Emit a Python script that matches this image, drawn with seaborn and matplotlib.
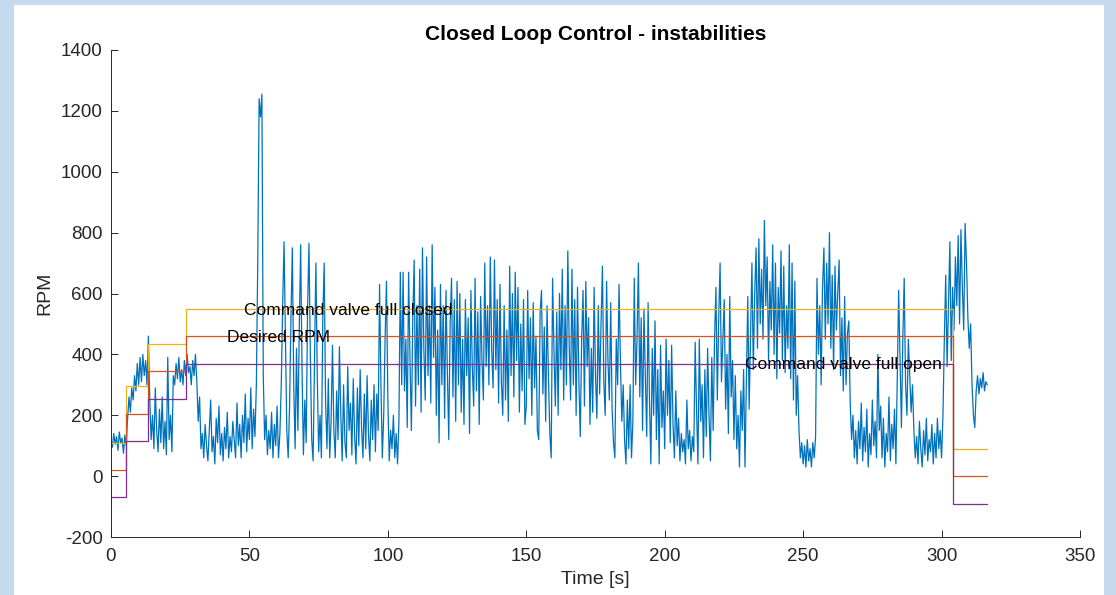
import numpy as np
import pandas as pd
import matplotlib
matplotlib.use("Agg")
import matplotlib.pyplot as plt
import seaborn as sns
from matplotlib.patches import Rectangle

# Logged shaft speed, one reading every 0.5 s starting at t = 0
sample_dt = 0.5
rpm = [
    # 0 - 5.5 s
    120, 95, 140, 105, 130, 85, 145, 110, 125, 75, 135, 100,
    # 6 - 13 s
    190, 260, 210, 290, 250, 330, 280, 370, 300, 390, 310, 400, 330, 380, 300,
    # 13.5 - 22 s
    460, 250, 120, 200, 90, 290, 150, 80, 220, 110, 260, 90, 180, 70, 390, 120, 200, 80,
    # 22.5 - 31 s
    330, 300, 370, 320, 390, 310, 350, 300, 380, 330, 400, 340,
    360, 300, 380, 330, 400, 310,
    # 31.5 - 52.5 s
    180, 260, 90, 140, 60, 170, 100, 50, 150, 250, 80, 130, 40, 190, 110, 230, 70, 140, 50, 160,
    90, 210, 60, 130, 80, 180, 120, 60, 240, 100, 170, 60, 200, 110, 270, 80, 190, 120, 290, 90,
    220, 130, 300,
    # 53 - 55 s : overspeed spike
    700, 1240, 1180, 1255, 330,
    # 55.5 - 62 s
    120, 200, 70, 150, 90, 210, 60, 170, 100, 230, 60, 140, 300, 560,
    # 62.5 - 80 s
    770, 450, 150, 60, 230, 520, 750, 300, 90, 420, 150, 480, 760, 350, 70, 250, 110, 550,
    765, 400, 120, 50, 380, 700, 330, 80, 200, 60, 520, 700, 250, 90, 320, 60, 180, 430,
    # 80.5 - 97 s
    150, 60, 280, 120, 425, 200, 50, 300, 110, 60, 360, 150, 240, 70, 320, 130, 40, 290,
    100, 350, 160, 60, 270, 90, 330, 140, 50, 250, 120, 300, 80, 270, 150, 630,
    # 97.5 - 105 s
    300, 60, 200, 450, 640, 250, 50, 150, 90, 200, 60, 140, 40, 180, 670, 300,
    # 105.5 - 125 s
    670, 280, 450, 160, 670, 380, 150, 520, 710, 230, 560, 300, 680, 210, 750, 420, 250, 720, 330, 560,
    240, 760, 390, 620, 200, 480, 110, 630, 300, 560, 190, 610, 340, 120, 500, 650, 260, 580, 180, 640,
    # 125.5 - 145 s
    300, 600, 210, 450, 170, 580, 330, 520, 140, 610, 360, 230, 650, 280, 540, 170, 590, 380, 250, 700,
    360, 560, 300, 720, 420, 290, 710, 350, 580, 240, 630, 310, 200, 560, 250, 480, 180, 690, 330, 600,
    # 145.5 - 165 s
    260, 670, 380, 620, 210, 500, 280, 580, 170, 230, 610, 320, 520, 200, 570, 290, 460, 150, 120, 540,
    610, 270, 490, 180, 560, 330, 140, 60, 650, 410, 230, 540, 200, 600, 350, 680, 250, 560, 300, 740,
    # 165.5 - 185 s
    430, 250, 680, 300, 580, 200, 620, 310, 130, 450, 610, 230, 640, 360, 520, 170, 420, 210, 620, 330,
    190, 560, 270, 500, 690, 310, 200, 640, 380, 250, 570, 220, 110, 60, 450, 300, 630, 380, 180, 300,
    # 185.5 - 200 s
    120, 40, 250, 90, 300, 60, 180, 650, 300, 450, 700, 260, 520, 150, 550, 330, 130, 570, 250, 40,
    420, 200, 510, 120, 350, 40, 430, 160, 280, 90,
    # 200.5 - 217 s
    450, 200, 380, 110, 430, 170, 60, 280, 100, 190, 50, 140, 80, 120, 40, 250, 90, 150, 50, 130,
    80, 440, 220, 40, 450, 180, 300, 60, 350, 130, 420, 200, 50, 390,
    # 217.5 - 232 s
    150, 450, 620, 250, 520, 700, 310, 450, 580, 220, 400, 140, 590, 260, 380, 120, 330, 90, 200, 30,
    280, 150, 350, 30, 300, 590, 220, 460, 700, 350,
    # 232.5 - 248 s
    600, 750, 420, 780, 500, 680, 450, 840, 560, 720, 380, 640, 480, 760, 400, 700, 320, 620, 470, 740,
    380, 690, 340, 560, 420, 760, 320, 700, 250, 640, 200, 330,
    # 248.5 - 254.5 s
    150, 60, 110, 40, 100, 30, 120, 50, 90, 30, 110, 60, 130,
    # 255 - 266.5 s
    650, 400, 560, 300, 620, 750, 450, 700, 500, 800, 420, 660, 350, 690, 480, 600, 710, 330, 520, 280,
    590, 300, 470, 510,
    # 267 - 284 s
    240, 120, 200, 60, 150, 40, 180, 90, 240, 50, 160, 80, 220, 30, 140, 70, 250, 100, 180, 60,
    400, 150, 230, 60, 190, 30, 140, 80, 260, 50, 170, 90, 220, 40, 330,
    # 284.5 - 290 s
    610, 380, 160, 450, 650, 300, 200, 450, 330, 210, 300, 150,
    # 290.5 - 300.5 s
    60, 130, 40, 180, 90, 30, 150, 70, 190, 50, 120, 80, 170, 40, 140, 60, 190, 90, 150, 60, 200,
    # 301 - 316.5 s
    450, 660, 360, 560, 770, 380, 620,
    480, 720, 560, 790, 500, 810, 620, 480, 830, 700, 520,
    420, 500, 300, 200, 160,
    280, 330, 270, 320, 290, 340, 280, 310, 300,
]

# Controller set points (piecewise constant, switching at step_times)
step_times = [0.0, 5.5, 13.3, 27.2, 304.2, 316.5]
valve_closed_cmd = [110, 295, 435, 550, 90]
desired_rpm = [20, 205, 345, 460, 0]
valve_open_cmd = [-70, 115, 255, 370, -90]

x_ticks = [0, 50, 100, 150, 200, 250, 300, 350]
y_ticks = [-200, 0, 200, 400, 600, 800, 1000, 1200, 1400]

signal = pd.DataFrame({"time": np.arange(len(rpm)) * sample_dt, "rpm": rpm})


def step_frame(levels):
    return pd.DataFrame({"time": step_times, "value": list(levels) + [levels[-1]]})


sns.set_theme(style="white")
plt.rcParams["font.family"] = ["Liberation Sans", "DejaVu Sans"]

fig = plt.figure(figsize=(11.16, 5.95), dpi=100)
fig.patch.set_facecolor("#C5DAEE")
fig.patches.append(Rectangle((14 / 1116, 0), 1090 / 1116, 590 / 595,
                             transform=fig.transFigure, facecolor="white",
                             edgecolor="none", zorder=-10))

ax = fig.add_axes([111 / 1116, 1 - 537 / 595, 969 / 1116, 487 / 595])
ax.set_zorder(1)
ax.set_facecolor("white")

sns.lineplot(data=signal, x="time", y="rpm", ax=ax, color="#0072BD",
             linewidth=0.9, estimator=None, sort=False)
for levels, col in [(valve_closed_cmd, "#EDB120"),
                    (desired_rpm, "#D95319"),
                    (valve_open_cmd, "#7E2F8E")]:
    sns.lineplot(data=step_frame(levels), x="time", y="value", ax=ax,
                 color=col, linewidth=0.9, drawstyle="steps-post",
                 estimator=None, sort=False)

ax.text(48, 545, "Command valve full closed", fontsize=12.5, va="center", color="black")
ax.text(42, 455, "Desired RPM", fontsize=12.5, va="center", color="black")
ax.text(229, 366, "Command valve full open", fontsize=12.5, va="center", color="black")

ax.set_xlim(0, 350)
ax.set_ylim(-200, 1400)
ax.set_xticks(x_ticks)
ax.set_yticks(y_ticks)
ax.set_xticklabels([str(v) for v in x_ticks])
ax.set_yticklabels([str(v) for v in y_ticks])

for side in ["top", "right"]:
    ax.spines[side].set_visible(False)
for side in ["left", "bottom"]:
    ax.spines[side].set_color("#262626")
    ax.spines[side].set_linewidth(0.7)
ax.tick_params(axis="both", direction="in", length=5, width=0.7,
               bottom=True, left=True, top=False, right=False,
               color="#262626", labelcolor="#262626", labelsize=13.5)
ax.tick_params(axis="x", pad=8)
ax.tick_params(axis="y", pad=6)

ax.set_xlabel("Time [s]", fontsize=14, color="#262626", labelpad=4)
ax.set_ylabel("RPM", fontsize=14, color="#262626", labelpad=5)
ax.set_title("Closed Loop Control - instabilities", fontsize=15,
             fontweight="bold", color="black", pad=7)

fig.savefig("out.png", dpi=100)
